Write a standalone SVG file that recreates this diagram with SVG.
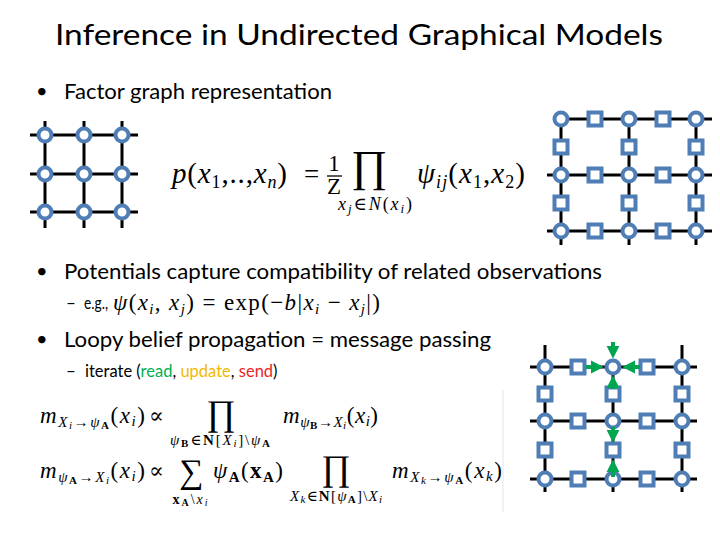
<svg xmlns="http://www.w3.org/2000/svg" width="720" height="540" viewBox="0 0 720 540">
<style>
.t{font-family:Lato,"Liberation Sans",sans-serif;fill:#000}
.m{font-family:"Liberation Serif","DejaVu Serif",serif;fill:#000}
.i{font-style:italic}
.b{font-weight:bold;font-style:normal}
.e{stroke:#000;stroke-width:3;fill:none}
.c{fill:#fff;stroke:#4f7db5;stroke-width:4}
.s{fill:#fff;stroke:#4f7db5;stroke-width:4}
.g{stroke:#00a550;stroke-width:4;fill:none;marker-end:url(#ah)}
</style>
<defs>
<marker id="ah" viewBox="0 0 10 10" markerUnits="userSpaceOnUse" markerWidth="13" markerHeight="14" refX="4" refY="5" orient="auto">
<path d="M0,0 L10,5 L0,10 z" fill="#00a550"/>
</marker>
<circle id="cn" r="6.5" class="c"/>
<rect id="sq" x="-6.5" y="-6.5" width="13" height="13" class="s"/>
</defs>
<rect width="720" height="540" fill="#fff"/>

<!-- text -->
<text class="t" x="55" y="45" font-size="29" textLength="608" lengthAdjust="spacingAndGlyphs">Inference in Undirected Graphical Models</text>
<text class="t" x="36" y="98" font-size="20">•</text>
<text class="t" x="64" y="99" font-size="21" textLength="268" lengthAdjust="spacingAndGlyphs">Factor graph representation</text>
<text class="t" x="36" y="278" font-size="20">•</text>
<text class="t" x="64" y="279" font-size="21" textLength="538" lengthAdjust="spacingAndGlyphs">Potentials capture compatibility of related observations</text>
<text class="t" x="66" y="309" font-size="17">–</text>
<text class="t" x="84" y="309" font-size="17" textLength="24" lengthAdjust="spacingAndGlyphs">e.g.,</text>
<text class="t" x="36" y="346" font-size="20">•</text>
<text class="t" x="64" y="347" font-size="21" textLength="427" lengthAdjust="spacingAndGlyphs">Loopy belief propagation = message passing</text>
<text class="t" x="66" y="377" font-size="17">–</text>
<text class="t" x="85" y="377" font-size="16.5">iterate (<tspan fill="#00b050">read</tspan>, <tspan fill="#f5b800">update</tspan>, <tspan fill="#e8262a">send</tspan>)</text>

<!-- formula: joint -->
<g id="formula-joint" class="m">
<text x="172" y="183" font-size="29" textLength="115"><tspan class="i">p</tspan>(<tspan class="i">x</tspan><tspan font-size="18" dy="5">1</tspan><tspan dy="-5">,..,</tspan><tspan class="i">x</tspan><tspan font-size="18" dy="5" class="i">n</tspan><tspan dy="-5">)</tspan></text>
<text x="304" y="183" font-size="27">=</text>
<text x="334" y="171" font-size="23" text-anchor="middle">1</text>
<line x1="327" y1="176" x2="342" y2="176" stroke="#000" stroke-width="1.3"/>
<text x="334" y="194" font-size="23" text-anchor="middle">Z</text>
<text x="369" y="181" font-size="44" text-anchor="middle">∏</text>
<text x="338" y="210" font-size="18" textLength="74"><tspan class="i">x</tspan><tspan class="i" font-size="13" dy="3">j</tspan><tspan dy="-3">∈</tspan><tspan class="i">N</tspan>(<tspan class="i">x</tspan><tspan class="i" font-size="13" dy="3">i</tspan><tspan dy="-3">)</tspan></text>
<text x="417" y="183" font-size="29" textLength="108"><tspan class="i">ψ</tspan><tspan class="i" font-size="18" dy="5">ij</tspan><tspan dy="-5">(</tspan><tspan class="i">x</tspan><tspan font-size="18" dy="5">1</tspan><tspan dy="-5">,</tspan><tspan class="i">x</tspan><tspan font-size="18" dy="5">2</tspan><tspan dy="-5">)</tspan></text>
</g>

<!-- formula: potential -->
<g id="formula-potential" class="m">
<text x="113" y="310" font-size="23" textLength="267"><tspan class="i">ψ</tspan>(<tspan class="i">x</tspan><tspan class="i" font-size="15" dy="4">i</tspan><tspan dy="-4">, </tspan><tspan class="i">x</tspan><tspan class="i" font-size="15" dy="4">j</tspan><tspan dy="-4">) = exp(−</tspan><tspan class="i">b</tspan>|<tspan class="i">x</tspan><tspan class="i" font-size="15" dy="4">i</tspan><tspan dy="-4"> − </tspan><tspan class="i">x</tspan><tspan class="i" font-size="15" dy="4">j</tspan><tspan dy="-4">|)</tspan></text>
</g>

<!-- formulas: messages -->
<g id="formula-messages" class="m">
<text x="40" y="423" font-size="23" textLength="105"><tspan class="i">m</tspan><tspan font-size="15" dy="4"><tspan class="i">X</tspan><tspan class="i" font-size="11" dy="2">i</tspan><tspan dy="-2">→</tspan><tspan class="i">ψ</tspan><tspan class="b" font-size="11" dy="2">A</tspan></tspan><tspan dy="-6">(</tspan><tspan class="i">x</tspan><tspan class="i" font-size="15" dy="3">i</tspan><tspan dy="-3">)</tspan></text>
<text x="149" y="423" font-size="22">∝</text>
<text x="221" y="425" font-size="36" text-anchor="middle">∏</text>
<text x="220" y="445" font-size="15" text-anchor="middle" textLength="100"><tspan class="i">ψ</tspan><tspan class="b" font-size="11" dy="2">B</tspan><tspan dy="-2">∈</tspan><tspan class="b">N</tspan>[<tspan class="i">X</tspan><tspan class="i" font-size="11" dy="2">i</tspan><tspan dy="-2">]\</tspan><tspan class="i">ψ</tspan><tspan class="b" font-size="11" dy="2">A</tspan></text>
<text x="283" y="423" font-size="23" textLength="95"><tspan class="i">m</tspan><tspan font-size="15" dy="4"><tspan class="i">ψ</tspan><tspan class="b" font-size="11" dy="2">B</tspan><tspan dy="-2">→</tspan><tspan class="i">X</tspan><tspan class="i" font-size="11" dy="2">i</tspan></tspan><tspan dy="-6">(</tspan><tspan class="i">x</tspan><tspan class="i" font-size="15" dy="3">i</tspan><tspan dy="-3">)</tspan></text>

<text x="40" y="478" font-size="23" textLength="105"><tspan class="i">m</tspan><tspan font-size="15" dy="4"><tspan class="i">ψ</tspan><tspan class="b" font-size="11" dy="2">A</tspan><tspan dy="-2">→</tspan><tspan class="i">X</tspan><tspan class="i" font-size="11" dy="2">i</tspan></tspan><tspan dy="-6">(</tspan><tspan class="i">x</tspan><tspan class="i" font-size="15" dy="3">i</tspan><tspan dy="-3">)</tspan></text>
<text x="149" y="478" font-size="22">∝</text>
<text x="191" y="483" font-size="34" text-anchor="middle">∑</text>
<text x="190" y="504" font-size="14" text-anchor="middle" textLength="35"><tspan class="b">x</tspan><tspan class="b" font-size="10" dy="2">A</tspan><tspan dy="-2">\</tspan><tspan class="i">x</tspan><tspan class="i" font-size="10" dy="2">i</tspan></text>
<text x="213" y="478" font-size="23" textLength="70"><tspan class="i">ψ</tspan><tspan class="b" font-size="15" dy="4">A</tspan><tspan dy="-4">(</tspan><tspan class="b">x</tspan><tspan class="b" font-size="15" dy="4">A</tspan><tspan dy="-4">)</tspan></text>
<text x="336" y="480" font-size="36" text-anchor="middle">∏</text>
<text x="336" y="501" font-size="15" text-anchor="middle" textLength="92"><tspan class="i">X</tspan><tspan class="i" font-size="11" dy="2">k</tspan><tspan dy="-2">∈</tspan><tspan class="b">N</tspan>[<tspan class="i">ψ</tspan><tspan class="b" font-size="11" dy="2">A</tspan><tspan dy="-2">]\</tspan><tspan class="i">X</tspan><tspan class="i" font-size="11" dy="2">i</tspan></text>
<text x="392" y="478" font-size="23" textLength="110"><tspan class="i">m</tspan><tspan font-size="15" dy="4"><tspan class="i">X</tspan><tspan class="i" font-size="11" dy="2">k</tspan><tspan dy="-2">→</tspan><tspan class="i">ψ</tspan><tspan class="b" font-size="11" dy="2">A</tspan></tspan><tspan dy="-6">(</tspan><tspan class="i">x</tspan><tspan class="i" font-size="15" dy="3">k</tspan><tspan dy="-3">)</tspan></text>
<line x1="503" y1="390" x2="503" y2="512" stroke="#e4e4e4" stroke-width="1"/>
</g>

<!-- connectors -->
<g id="connectors">
<path class="e" d="M30,135H138M30,174H138M30,212H138M45,121V228M84,121V228M122,121V228"/>
<path class="e" d="M561,119H712M547,175H712M547,231H712M561,119V245M629,119V245M696,119V245"/>
<path class="e" d="M530,367H697M530,421H697M530,479H697M545,345V492M613,367V492M682,345V492"/>
</g>

<!-- grid A nodes -->
<g id="gridA">
<g id="a11"><use href="#cn" x="45" y="135"/></g>
<g id="a12"><use href="#cn" x="84" y="135"/></g>
<g id="a13"><use href="#cn" x="122" y="135"/></g>
<g id="a21"><use href="#cn" x="45" y="174"/></g>
<g id="a22"><use href="#cn" x="84" y="174"/></g>
<g id="a23"><use href="#cn" x="122" y="174"/></g>
<g id="a31"><use href="#cn" x="45" y="212"/></g>
<g id="a32"><use href="#cn" x="84" y="212"/></g>
<g id="a33"><use href="#cn" x="122" y="212"/></g>
</g>

<!-- grid B nodes -->
<g id="gridB">
<g id="b-v11"><use href="#cn" x="561" y="119"/></g>
<g id="b-v12"><use href="#cn" x="629" y="119"/></g>
<g id="b-v13"><use href="#cn" x="696" y="119"/></g>
<g id="b-v21"><use href="#cn" x="561" y="175"/></g>
<g id="b-v22"><use href="#cn" x="629" y="175"/></g>
<g id="b-v23"><use href="#cn" x="696" y="175"/></g>
<g id="b-v31"><use href="#cn" x="561" y="231"/></g>
<g id="b-v32"><use href="#cn" x="629" y="231"/></g>
<g id="b-v33"><use href="#cn" x="696" y="231"/></g>
<g id="b-fh11"><use href="#sq" x="595" y="119"/></g>
<g id="b-fh12"><use href="#sq" x="663" y="119"/></g>
<g id="b-fh21"><use href="#sq" x="595" y="175"/></g>
<g id="b-fh22"><use href="#sq" x="663" y="175"/></g>
<g id="b-fh31"><use href="#sq" x="595" y="231"/></g>
<g id="b-fh32"><use href="#sq" x="663" y="231"/></g>
<g id="b-fv11"><use href="#sq" x="561" y="147"/></g>
<g id="b-fv12"><use href="#sq" x="629" y="147"/></g>
<g id="b-fv13"><use href="#sq" x="696" y="147"/></g>
<g id="b-fv21"><use href="#sq" x="561" y="203"/></g>
<g id="b-fv22"><use href="#sq" x="629" y="203"/></g>
<g id="b-fv23"><use href="#sq" x="696" y="203"/></g>
</g>

<!-- grid C nodes -->
<g id="gridC">
<g id="c-v11"><use href="#cn" x="545" y="367"/></g>
<g id="c-v12"><use href="#cn" x="613" y="367"/></g>
<g id="c-v13"><use href="#cn" x="682" y="367"/></g>
<g id="c-v21"><use href="#cn" x="545" y="421"/></g>
<g id="c-v22"><use href="#cn" x="613" y="421"/></g>
<g id="c-v23"><use href="#cn" x="682" y="421"/></g>
<g id="c-v31"><use href="#cn" x="545" y="479"/></g>
<g id="c-v32"><use href="#cn" x="613" y="479"/></g>
<g id="c-v33"><use href="#cn" x="682" y="479"/></g>
<g id="c-fh11"><use href="#sq" x="578" y="367"/></g>
<g id="c-fh12"><use href="#sq" x="647" y="367"/></g>
<g id="c-fh21"><use href="#sq" x="578" y="421"/></g>
<g id="c-fh22"><use href="#sq" x="647" y="421"/></g>
<g id="c-fh31"><use href="#sq" x="578" y="479"/></g>
<g id="c-fh32"><use href="#sq" x="647" y="479"/></g>
<g id="c-fv11"><use href="#sq" x="545" y="394"/></g>
<g id="c-fv12"><use href="#sq" x="613" y="394"/></g>
<g id="c-fv13"><use href="#sq" x="682" y="394"/></g>
<g id="c-fv21"><use href="#sq" x="545" y="450"/></g>
<g id="c-fv22"><use href="#sq" x="613" y="450"/></g>
<g id="c-fv23"><use href="#sq" x="682" y="450"/></g>
</g>

<!-- messages -->
<g id="messages">
<line class="g" x1="586" y1="367" x2="596" y2="367"/>
<line class="g" x1="640" y1="367" x2="630" y2="367"/>
<line class="g" x1="613" y1="342" x2="613" y2="351"/>
<line class="g" x1="613" y1="389" x2="613" y2="383"/>
<line class="g" x1="613" y1="427" x2="613" y2="435"/>
<line class="g" x1="613" y1="477" x2="613" y2="467"/>
</g>
</svg>
